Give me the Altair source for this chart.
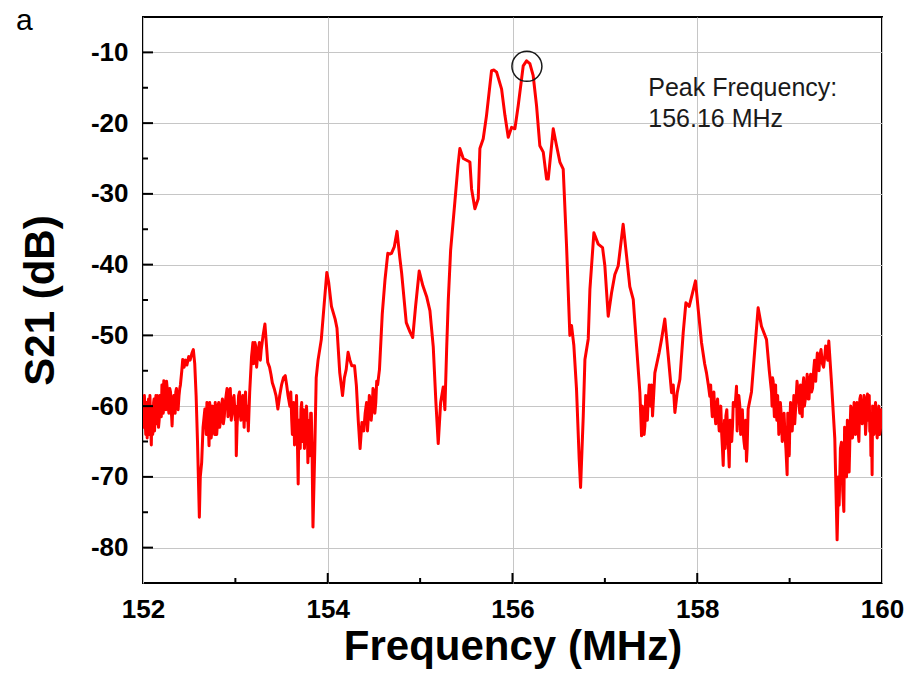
import altair as alt
import pandas as pd

# ---- trace data (frequency in MHz, S21 in dB) ----
freq_a = [152.000,152.010,152.020,152.030,152.040,152.050,152.060,152.070,152.080,152.090,
          152.100,152.110,152.120,152.130,152.140,152.150,152.160,152.175,152.190,152.205,
          152.215,152.225,152.240,152.255,152.270,152.290,152.305,152.315,152.325,152.340,
          152.355,152.370,152.390,152.405,152.420,152.430,152.445,152.460,152.475,152.495,
          152.510,152.530,152.545,152.560,152.575,152.590,152.610,152.620,152.635,152.650,
          152.670,152.685,152.700,152.715,152.730,152.745,152.760,152.775,152.790,152.805,
          152.820,152.840,152.860,152.880,152.900,152.920,152.935,152.955,152.975]
db_a = [-59,-63,-60,-64,-59.5,-62,-59,-64,-61,-65.5,
        -60,-63,-59,-62,-58.5,-61,-60,-62,-59,-57,
        -60,-56.4,-58.5,-56.5,-59.5,-57.5,-60.5,-62.8,-59,-60.4,
        -58,-59.5,-58.5,-57,-55,-53.4,-54.5,-53.5,-54.2,-53,
        -53.5,-52.5,-52,-54,-58.5,-65,-75.7,-70,-68,-63,
        -60.4,-64,-61.5,-65.6,-61,-63.5,-60.5,-64,-61,-62.5,
        -59.5,-62,-59,-61.5,-58.5,-61.5,-58,-62,-59]

freq_b = [153.000,153.010,153.025,153.045,153.060,153.080,153.095,153.110,153.130,153.140,
          153.155,153.175,153.190,153.205,153.220,153.240,153.260,153.280,153.300,153.320,
          153.340,153.350,153.370,153.385,153.400,153.420,153.440,153.460,153.480,153.500,
          153.520,153.540,153.555,153.570,153.590,153.610,153.625,153.640,153.655,153.670,
          153.680,153.695,153.710,153.725,153.740,153.755,153.770,153.785,153.800,153.815,
          153.830,153.840,153.860,153.875,153.895,153.930,153.965,153.990]
db_b = [-62,-67,-61,-58,-62,-58.5,-63,-58,-60,-63.5,
        -58,-53,-51,-53,-51.5,-53,-51,-52,-50,-48.4,
        -52,-53.8,-54.5,-55.5,-56.7,-57.5,-58.5,-60.4,-58.5,-57,
        -56,-55.7,-57,-58.5,-60,-62,-61,-65.5,-62,-64,
        -71,-63,-60.4,-65,-60.5,-63,-60,-68,-62,-61,
        -66,-77.1,-66,-56,-53.5,-50.6,-45,-41.1]

freq_c = [154.010,154.040,154.080,154.100,154.130,154.160,154.180,154.200,154.220,154.240,
          154.260,154.290,154.310,154.330,154.350,154.370,154.390,154.420,154.440,154.460,
          154.480,154.500,154.520,154.540,154.560,154.590,154.620,154.650,154.670,154.690,
          154.720,154.750,154.780,154.800,154.850,154.890,154.920,154.950,154.990,155.030,
          155.070,155.106,155.142,155.171,155.196,155.222,155.250,155.268,155.287,155.305]
db_c = [-42.5,-45.9,-47.7,-49,-55.3,-58.5,-56,-54.8,-52.4,-53.5,
        -54.3,-54.3,-57.1,-62,-66,-62.3,-63.5,-59.5,-61.5,-59,
        -60.5,-58,-59.5,-57,-54.8,-47,-42.1,-38.4,-38.5,-38.4,
        -37.5,-35.3,-39,-41.2,-48.2,-49.5,-50.3,-46,-40.9,-43,
        -44.5,-46.5,-51.6,-59.5,-65.3,-59.5,-57.3,-60.5,-52,-45]

freq_d = [155.330,155.377,155.410,155.430,155.467,155.539,155.557,155.593,155.629,155.647,
          155.683,155.719,155.773,155.800,155.828,155.882,155.918,155.954,155.990,156.026,
          156.062,156.116,156.152,156.188,156.224,156.260,156.296,156.333,156.369,156.387,
          156.441,156.477,156.513,156.549,156.585,156.621,156.639,156.664,156.693,156.722,
          156.737,156.766,156.784,156.820,156.838,156.881,156.928,156.975]
db_d = [-38,-31,-26,-23.6,-25,-25.5,-29.3,-32.1,-30.7,-23.6,
        -22.2,-18.9,-12.6,-12.5,-12.8,-15.2,-18.9,-22,-20.6,-20.8,
        -17.5,-11.9,-11.2,-11.6,-13.3,-17.5,-23.2,-24.1,-27.9,-27.9,
        -20.8,-23.2,-25.5,-26.5,-37.3,-50,-48.6,-51.4,-57.6,-67.5,
        -71.5,-61.4,-53.4,-50.5,-43.5,-35.5,-37.1,-37.6]

freq_e = [157.000,157.036,157.072,157.108,157.144,157.198,157.235,157.270,157.307,157.343,
          157.379,157.397,157.415,157.433,157.450,157.469,157.480,157.495,157.516,157.541,
          157.588,157.613,157.649,157.686,157.722,157.740,157.758,157.783,157.812,157.848,
          157.877,157.913,157.949,157.981,158.010,158.046,158.080,158.100,158.120,158.136,
          158.155,158.172,158.190,158.209,158.230,158.245,158.265,158.281,158.295,158.310,
          158.330,158.346,158.365,158.382,158.400,158.425,158.440]
db_e = [-40.2,-47.3,-44,-41.4,-40.2,-34.3,-38.8,-43.1,-44.9,-51.5,
        -58.1,-64.2,-61.5,-62.8,-59,-59.1,-57,-60,-61.4,-55.3,
        -52.4,-50.6,-47.7,-52.9,-58.1,-57,-60.9,-58.1,-56.2,-49.6,
        -45.4,-45.9,-44,-42.3,-46.3,-51,-54,-55.3,-57,-58.6,
        -60,-59.3,-61,-60,-62,-61.4,-64,-68.4,-62,-61.4,
        -64,-68.6,-63,-62.8,-60,-57.2,-60]

freq_f = [158.461,158.480,158.497,158.515,158.533,158.551,158.587,158.623,158.659,158.695,
          158.750,158.780,158.804,158.815,158.830,158.840,158.855,158.876,158.890,158.912,
          158.930,158.948,158.973,158.990,159.002,159.020,159.038,159.055,159.070,159.092,
          159.110,159.128,159.145,159.160,159.182,159.200,159.220,159.237,159.260,159.291,
          159.310,159.327,159.355,159.381,159.400,159.424,159.453,159.489,159.514,159.530,
          159.536,159.550,159.561,159.575,159.587,159.600,159.608,159.625,159.644,159.655,
          159.669,159.690,159.706,159.720,159.742,159.760,159.778,159.795,159.814,159.830,
          159.843,159.855,159.868,159.880,159.893,159.905,159.922,159.940,159.958,159.975,
          160.000]
db_f = [-60,-62,-63.6,-66,-67.8,-60.4,-58,-52,-46.1,-48.7,
        -50.6,-55,-58,-56,-60,-59,-61,-60.4,-62.5,-61.8,
        -64,-63.6,-69.7,-63,-62.7,-61,-60.8,-62.5,-59,-58,
        -61,-59.9,-57,-60,-57.1,-59,-56,-58,-55,-54.3,
        -53,-52.9,-54,-52.9,-52,-50.8,-56.6,-64.6,-78.9,-70,
        -74,-66,-65.1,-72,-74.9,-68,-65.5,-62,-69.3,-63,
        -60.8,-63,-60.4,-62,-63.6,-59,-60.4,-62,-60,-62,
        -58.3,-61,-63.6,-67,-69.7,-63,-60.4,-63,-61.8,-64,
        -62]

# extra samples read inside the noisy (jagged) stretches of the trace
freq_n1 = [152.005,152.015,152.025,152.035,152.045,152.055,152.065,152.075,152.085,152.095,
           152.105,152.115,152.125,152.135,152.145,152.155,152.168,152.183,152.198,152.210,
           152.220,152.233,152.248,152.262,152.280,152.298,152.310,152.333,152.348,152.362,
           152.380,152.398]
db_n1 = [-61,-58.5,-62.5,-60,-64.5,-60.5,-62.5,-58.5,-63,-61.5,
         -64,-59.5,-63.5,-60,-62.5,-58.5,-63,-58.5,-61.5,-58.5,
         -61,-57,-60.5,-57.5,-61,-58,-61.5,-58.5,-61,-57.5,
         -60.5,-57.5]

freq_n2 = [152.678,152.692,152.708,152.722,152.738,152.752,152.768,152.782,152.798,152.812,
           152.830,152.850,152.870,152.890,152.910,152.928,152.945,152.965,152.985,
           153.005,153.018,153.035,153.052,153.070,153.088,153.103,153.120,
           153.183,153.198,153.212,153.230,153.250,153.270,153.290]
db_n2 = [-62,-59.5,-63,-59.5,-64.5,-60,-62,-59.5,-64,-60,
         -63,-60,-62.5,-59.5,-57.5,-60,-57.5,-61,-58.5,
         -60,-63,-58.5,-61,-59.5,-61,-59,-62,
         -52,-54,-51,-54.5,-52,-53.5,-51]

freq_n3 = [153.600,153.617,153.632,153.648,153.662,153.688,153.702,153.718,153.733,153.748,
           153.762,153.778,153.792,153.808,153.822,
           154.405,154.430,154.450,154.470,154.490,154.510,154.530,
           157.405,157.425,157.442,157.460,157.505]
db_n3 = [-58,-64,-59.5,-63,-58.5,-62,-66,-59.5,-62,-66,
         -61.5,-62.5,-64,-67,-61,
         -61,-63.5,-58.5,-62,-57.5,-61,-56.5,
         -60,-64,-58.5,-62,-57]

freq_n4 = [158.145,158.163,158.180,158.200,158.220,158.238,158.255,158.273,158.288,158.302,
           158.320,158.338,158.355,158.373,158.390,158.410,158.432,158.450,158.470,158.488,
           158.506,158.524,158.540]
db_n4 = [-57,-61.5,-58,-62.5,-59,-63.5,-60,-66,-64.5,-66,
         -60.5,-66,-62,-65,-59.5,-60,-63.5,-58.5,-64,-60.5,
         -65,-62,-66]

freq_n5 = [158.810,158.822,158.835,158.848,158.862,158.870,158.883,158.900,158.920,158.940,
           158.960,158.980,158.996,159.010,159.028,159.046,159.062,159.080,159.100,159.118,
           159.136,159.152,159.170,159.190,159.210,159.228,159.248,159.270,159.282,159.300,
           159.318,159.340,159.368,159.390,159.412]
db_n5 = [-60,-56.5,-61.5,-57,-62,-58.5,-64,-59.5,-65,-61,
         -66,-61,-67,-59.5,-63.5,-58.5,-61,-56.5,-59.5,-57,
         -61.5,-56,-59,-55.5,-59,-55.5,-57.5,-53.5,-56.5,-52.5,
         -55,-52,-54.5,-51.5,-53.5]

freq_n6 = [159.568,159.595,159.616,159.635,159.650,159.662,159.680,159.698,159.713,159.730,
           159.750,159.768,159.786,159.805,159.822,159.836,159.848,159.862,159.874,159.887,
           159.898,159.912,159.930,159.948,159.966,159.985,159.995]
db_n6 = [-67,-63,-70,-64,-66,-60,-64.5,-59.5,-64,-59.5,
         -65,-58.5,-62.5,-58.5,-64,-59,-62,-58.5,-61,-63.5,
         -60,-64,-59.5,-64.5,-60,-63,-60.5]

# ---- axes, ticks, annotation ----
x_label_values = [152, 154, 156, 158, 160]
x_major_ticks = [154, 156, 158]
x_minor_ticks = [153, 155, 157, 159]
y_label_values = [-80, -70, -60, -50, -40, -30, -20, -10]
y_minor_ticks = [-75, -65, -55, -45, -35, -25, -15]
peak_freq = [156.156]
peak_db = [-11.97]
annotation_lines = ["Peak Frequency:", "156.16 MHz"]
annotation_freq = [157.47]
annotation_db = [-16.2]
panel_letter = "a"

W, H = 739, 566
FONT = "Liberation Sans"

freq = (freq_a + freq_b + freq_c + freq_d + freq_e + freq_f
        + freq_n1 + freq_n2 + freq_n3 + freq_n4 + freq_n5 + freq_n6)
db = (db_a + db_b + db_c + db_d + db_e + db_f
      + db_n1 + db_n2 + db_n3 + db_n4 + db_n5 + db_n6)
trace = pd.DataFrame({"freq": freq, "s21": db}).sort_values("freq").reset_index(drop=True)

xscale = alt.Scale(domain=[152, 160], nice=False, zero=False)
yscale = alt.Scale(domain=[-85, -5], nice=False, zero=False)

xaxis = alt.Axis(values=x_label_values, ticks=False, domain=False, grid=True,
                 gridColor="#c6c6c6", gridWidth=1, labelExpr="'' + datum.value",
                 labelFont=FONT, labelFontSize=26, labelFontWeight="bold", labelColor="black",
                 labelPadding=13, labelFlush=False,
                 titleFont=FONT, titleFontSize=42, titleFontWeight="bold", titleColor="black",
                 titlePadding=4)
yaxis = alt.Axis(values=y_label_values, ticks=False, domain=False, grid=True,
                 gridColor="#c6c6c6", gridWidth=1, labelExpr="'' + datum.value",
                 labelFont=FONT, labelFontSize=26, labelFontWeight="bold", labelColor="black",
                 labelPadding=15, labelFlush=False,
                 titleFont=FONT, titleFontSize=42, titleFontWeight="bold", titleColor="black",
                 titlePadding=28)

def X(field):
    return alt.X(field, type="quantitative", scale=xscale, axis=xaxis, title="Frequency (MHz)")

def Y(field):
    return alt.Y(field, type="quantitative", scale=yscale, axis=yaxis, title="S21 (dB)")

line = alt.Chart(trace).mark_line(color="#ff0000", strokeWidth=3, clip=True,
                                  strokeJoin="round").encode(x=X("freq"), y=Y("s21"))

xt_major = alt.Chart(pd.DataFrame({"freq": x_major_ticks})).mark_rule(
    color="black", strokeWidth=2).encode(x=X("freq"), y=alt.value(H), y2=alt.value(H - 10))
xt_minor = alt.Chart(pd.DataFrame({"freq": x_minor_ticks})).mark_rule(
    color="black", strokeWidth=2).encode(x=X("freq"), y=alt.value(H), y2=alt.value(H - 5))
yt_major = alt.Chart(pd.DataFrame({"s21": y_label_values})).mark_rule(
    color="black", strokeWidth=2).encode(y=Y("s21"), x=alt.value(0), x2=alt.value(10))
yt_minor = alt.Chart(pd.DataFrame({"s21": y_minor_ticks})).mark_rule(
    color="black", strokeWidth=2).encode(y=Y("s21"), x=alt.value(0), x2=alt.value(5))

circle = alt.Chart(pd.DataFrame({"freq": peak_freq, "s21": peak_db})).mark_point(
    shape="circle", size=900, filled=False, color="#1a1a1a", strokeWidth=1.5, opacity=1
).encode(x=X("freq"), y=Y("s21"))

note = alt.Chart(pd.DataFrame({"freq": annotation_freq, "s21": annotation_db})).mark_text(
    text=annotation_lines, align="left", baseline="alphabetic", font=FONT, fontSize=25,
    lineHeight=31, color="#1a1a1a"
).encode(x=X("freq"), y=Y("s21"))

letter = alt.Chart(pd.DataFrame({"t": [panel_letter]})).mark_text(
    align="left", baseline="alphabetic", font=FONT, fontSize=30, color="black"
).encode(x=alt.value(-127), y=alt.value(13), text="t:N")

chart = alt.layer(line, xt_major, xt_minor, yt_major, yt_minor, circle, note, letter).properties(
    width=W, height=H,
    autosize=alt.AutoSizeParams(type="none"),
    padding={"left": 135, "top": 9, "right": 23, "bottom": 91},
    background="white",
).configure_view(stroke="black", strokeWidth=2)

chart.save("out.html", embed_options={"renderer": "svg", "actions": False})
